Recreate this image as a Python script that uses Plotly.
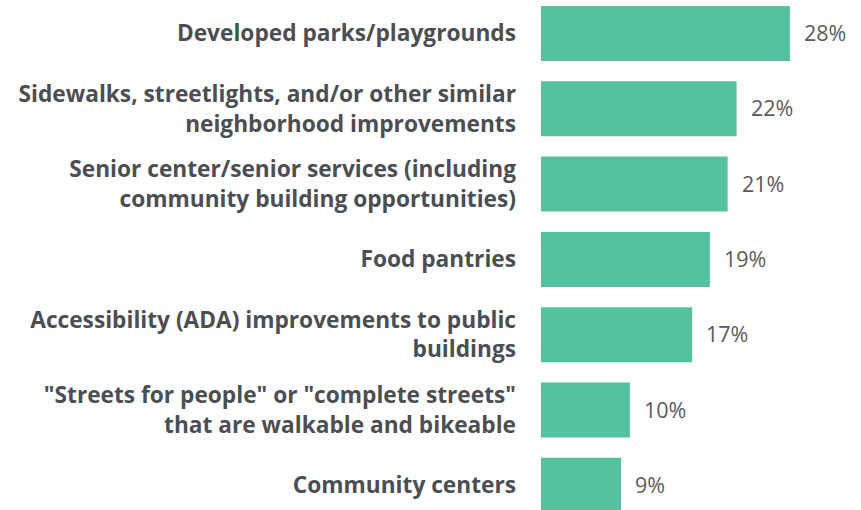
import plotly.graph_objects as go

# Survey responses: share of respondents choosing each amenity
categories = [
    "Developed parks/playgrounds",
    "Sidewalks, streetlights, and/or other similar<br>neighborhood improvements",
    "Senior center/senior services (including<br>community building opportunities)",
    "Food pantries",
    "Accessibility (ADA) improvements to public<br>buildings",
    "\"Streets for people\" or \"complete streets\"<br>that are walkable and bikeable",
    "Community centers",
]
values = [28, 22, 21, 19, 17, 10, 9]
value_labels = [f"{v}%" for v in values]

BAR_COLOR = "#56C1A1"
LABEL_COLOR = "#4B4E53"
VALUE_COLOR = "#5A5A5A"

fig = go.Figure(
    go.Bar(
        x=values,
        y=categories,
        orientation="h",
        marker=dict(color=BAR_COLOR, line=dict(width=0)),
        width=0.73,
        hoverinfo="skip",
    )
)

# percentage labels to the right of each bar
for cat, v, lab in zip(categories, values, value_labels):
    fig.add_annotation(
        x=v, y=cat, text=lab, showarrow=False,
        xanchor="left", yanchor="middle", xshift=12, yshift=1,
        font=dict(family="Open Sans", size=21.5, color=VALUE_COLOR),
    )

fig.update_layout(
    width=861,
    height=510,
    margin=dict(l=541, r=0, t=0, b=0),
    paper_bgcolor="white",
    plot_bgcolor="white",
    showlegend=False,
    xaxis=dict(range=[0, 36.0], visible=False, fixedrange=True),
    yaxis=dict(
        range=[6.328, -0.445],
        showgrid=False,
        zeroline=False,
        showline=False,
        ticks="",
        ticklabelstandoff=24,
        tickfont=dict(family="Open Sans", size=22.7, color=LABEL_COLOR, weight="bold"),
        fixedrange=True,
    ),
)

fig.write_html("out.html")
